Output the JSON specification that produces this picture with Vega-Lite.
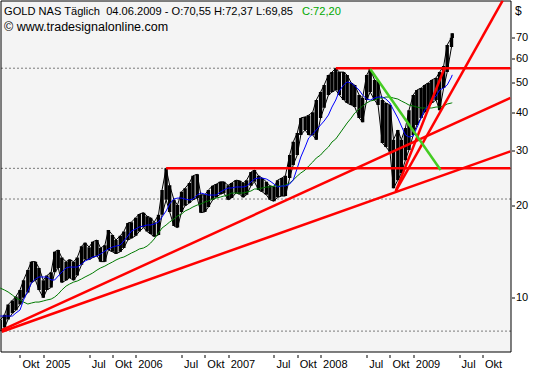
{
 "$schema": "https://vega.github.io/schema/vega-lite/v6.json",
 "width": 510, "height": 351,
 "autosize": "none",
 "padding": {"left": 0.5, "top": 0.5, "right": 22.5, "bottom": 28.5},
 "background": "white",
 "config": {"view": {"stroke": "black", "strokeWidth": 1, "fill": "#f4f4f4"}, "font": "Liberation Sans", "axis": {"labelOverlap": false}},
 "title": {
  "text": "\u00a0\u00a0\u00a0\u00a0\u00a0GOLD NAS Täglich\u00a0 04.06.2009 - O:70,55 H:72,37 L:69,85",
  "subtitle": "© www.tradesignalonline.com",
  "anchor": "start", "frame": "group", "orient": "top", "offset": -32.5, "dx": 3.5,
  "font": "Liberation Sans", "fontSize": 11.1, "fontWeight": "normal", "color": "black",
  "subtitleFont": "Liberation Sans", "subtitleFontSize": 12.5, "subtitleColor": "black", "subtitlePadding": 3.4
 },
 "datasets": {
  "lv": [{"level": 55.7}, {"level": 26.33}, {"level": 20.93}, {"level": 7.79}],
  "px": [
   {"d":"2004-07-15","h":8.46,"l":7.8,"b":8.72,"g":10.75},
   {"d":"2004-08-01","h":8.8,"l":8.0,"b":8.72,"g":10.59},
   {"d":"2004-08-15","h":9.5,"l":8.5,"b":8.72,"g":10.44},
   {"d":"2004-09-01","h":9.8,"l":8.9,"b":8.72,"g":10.2},
   {"d":"2004-09-15","h":10.1,"l":9.1,"b":8.92,"g":9.98},
   {"d":"2004-10-01","h":10.6,"l":9.5,"b":9.12,"g":9.83},
   {"d":"2004-10-15","h":11.4,"l":10.0,"b":9.83,"g":9.68},
   {"d":"2004-11-01","h":12.3,"l":10.4,"b":10.51,"g":9.54},
   {"d":"2004-11-15","h":13.1,"l":11.2,"b":11.16,"g":9.61},
   {"d":"2004-12-01","h":13.1,"l":11.4,"b":11.51,"g":9.68},
   {"d":"2004-12-15","h":12.5,"l":10.6,"b":11.68,"g":9.68},
   {"d":"2005-01-01","h":11.4,"l":10.0,"b":11.68,"g":9.76},
   {"d":"2005-01-15","h":11.8,"l":10.6,"b":11.68,"g":9.83},
   {"d":"2005-02-01","h":12.1,"l":10.8,"b":11.42,"g":9.9},
   {"d":"2005-02-15","h":14.1,"l":12.1,"b":11.42,"g":10.05},
   {"d":"2005-03-01","h":14.3,"l":12.5,"b":11.77,"g":10.28},
   {"d":"2005-03-15","h":13.5,"l":11.2,"b":12.12,"g":10.59},
   {"d":"2005-04-01","h":13.1,"l":11.4,"b":12.49,"g":10.91},
   {"d":"2005-04-15","h":13.3,"l":11.6,"b":12.58,"g":11.08},
   {"d":"2005-05-01","h":13.1,"l":11.4,"b":12.58,"g":11.24},
   {"d":"2005-05-15","h":13.5,"l":11.8,"b":12.58,"g":11.33},
   {"d":"2005-06-01","h":14.7,"l":12.8,"b":12.86,"g":11.51},
   {"d":"2005-06-15","h":15.1,"l":13.3,"b":13.16,"g":11.68},
   {"d":"2005-07-01","h":14.6,"l":13.3,"b":13.36,"g":11.86},
   {"d":"2005-07-15","h":15.2,"l":13.5,"b":13.56,"g":12.03},
   {"d":"2005-08-01","h":15.4,"l":13.7,"b":13.66,"g":12.3},
   {"d":"2005-08-15","h":14.5,"l":13.1,"b":13.87,"g":12.49},
   {"d":"2005-09-01","h":14.8,"l":13.1,"b":14.18,"g":12.67},
   {"d":"2005-09-15","h":16.6,"l":14.3,"b":14.4,"g":12.86},
   {"d":"2005-10-01","h":16.0,"l":14.1,"b":14.61,"g":13.06},
   {"d":"2005-10-15","h":15.4,"l":13.9,"b":14.72,"g":13.26},
   {"d":"2005-11-01","h":15.9,"l":14.1,"b":14.83,"g":13.46},
   {"d":"2005-11-15","h":16.4,"l":14.5,"b":15.29,"g":13.56},
   {"d":"2005-12-01","h":17.5,"l":15.4,"b":15.87,"g":13.77},
   {"d":"2005-12-15","h":17.6,"l":15.6,"b":16.47,"g":13.97},
   {"d":"2006-01-01","h":18.2,"l":15.9,"b":16.72,"g":14.18},
   {"d":"2006-01-15","h":18.7,"l":16.4,"b":16.98,"g":14.4},
   {"d":"2006-02-01","h":18.9,"l":16.9,"b":17.1,"g":14.51},
   {"d":"2006-02-15","h":18.4,"l":16.4,"b":17.23,"g":14.72},
   {"d":"2006-03-01","h":18.2,"l":16.1,"b":17.23,"g":15.06},
   {"d":"2006-03-15","h":17.6,"l":15.8,"b":17.36,"g":15.52},
   {"d":"2006-04-01","h":18.6,"l":16.0,"b":17.62,"g":16.23},
   {"d":"2006-04-15","h":22.4,"l":18.6,"b":18.3,"g":16.85},
   {"d":"2006-05-01","h":26.33,"l":20.8,"b":19.14,"g":17.23},
   {"d":"2006-05-15","h":23.2,"l":19.0,"b":20.17,"g":17.62},
   {"d":"2006-06-01","h":20.8,"l":17.1,"b":20.93,"g":18.02},
   {"d":"2006-06-15","h":20.0,"l":16.9,"b":21.08,"g":18.43},
   {"d":"2006-07-01","h":22.1,"l":19.0,"b":21.08,"g":18.71},
   {"d":"2006-07-15","h":22.7,"l":19.9,"b":20.93,"g":19.14},
   {"d":"2006-08-01","h":23.6,"l":20.3,"b":20.77,"g":19.42},
   {"d":"2006-08-15","h":24.9,"l":20.8,"b":20.93,"g":19.72},
   {"d":"2006-09-01","h":25.2,"l":21.1,"b":21.56,"g":20.01},
   {"d":"2006-09-15","h":21.6,"l":18.9,"b":21.89,"g":20.17},
   {"d":"2006-10-01","h":21.6,"l":19.0,"b":21.72,"g":20.47},
   {"d":"2006-10-15","h":22.4,"l":19.7,"b":21.56,"g":20.62},
   {"d":"2006-11-01","h":23.1,"l":20.8,"b":21.56,"g":20.93},
   {"d":"2006-11-15","h":23.4,"l":21.2,"b":21.56,"g":21.08},
   {"d":"2006-12-01","h":23.8,"l":21.7,"b":22.05,"g":21.24},
   {"d":"2006-12-15","h":23.8,"l":21.9,"b":22.39,"g":21.4},
   {"d":"2007-01-01","h":23.2,"l":20.8,"b":22.73,"g":21.56},
   {"d":"2007-01-15","h":23.6,"l":21.1,"b":22.73,"g":21.89},
   {"d":"2007-02-01","h":24.1,"l":21.9,"b":22.9,"g":21.89},
   {"d":"2007-02-15","h":24.0,"l":21.7,"b":22.9,"g":21.89},
   {"d":"2007-03-01","h":23.6,"l":21.2,"b":22.9,"g":21.89},
   {"d":"2007-03-15","h":24.1,"l":21.6,"b":23.07,"g":22.05},
   {"d":"2007-04-01","h":25.6,"l":23.1,"b":23.77,"g":22.22},
   {"d":"2007-04-15","h":26.0,"l":23.8,"b":24.31,"g":22.56},
   {"d":"2007-05-01","h":24.9,"l":22.4,"b":24.49,"g":22.56},
   {"d":"2007-05-15","h":24.5,"l":22.1,"b":24.49,"g":22.73},
   {"d":"2007-06-01","h":23.8,"l":21.6,"b":24.31,"g":22.9},
   {"d":"2007-06-15","h":23.1,"l":20.8,"b":23.95,"g":22.9},
   {"d":"2007-07-01","h":22.9,"l":20.6,"b":23.42,"g":23.07},
   {"d":"2007-07-15","h":24.1,"l":21.2,"b":22.9,"g":23.07},
   {"d":"2007-08-01","h":24.5,"l":21.4,"b":23.07,"g":23.07},
   {"d":"2007-08-15","h":24.9,"l":21.4,"b":23.07,"g":23.24},
   {"d":"2007-09-01","h":29.1,"l":24.5,"b":23.42,"g":23.59},
   {"d":"2007-09-15","h":32.1,"l":27.0,"b":24.13,"g":24.13},
   {"d":"2007-10-01","h":34.3,"l":29.1,"b":26.39,"g":24.86},
   {"d":"2007-10-15","h":38.4,"l":33.8,"b":28.66,"g":25.43},
   {"d":"2007-11-01","h":38.7,"l":35.1,"b":30.89,"g":26.0},
   {"d":"2007-11-15","h":39.2,"l":33.8,"b":33.04,"g":26.79},
   {"d":"2007-12-01","h":40.1,"l":33.8,"b":34.04,"g":27.6},
   {"d":"2007-12-15","h":43.9,"l":32.6,"b":35.08,"g":28.44},
   {"d":"2008-01-01","h":46.6,"l":38.4,"b":36.42,"g":29.09},
   {"d":"2008-01-15","h":49.1,"l":41.4,"b":37.52,"g":29.98},
   {"d":"2008-02-01","h":52.9,"l":45.6,"b":39.24,"g":30.89},
   {"d":"2008-02-15","h":54.1,"l":46.6,"b":41.66,"g":32.06},
   {"d":"2008-03-01","h":55.7,"l":47.3,"b":43.9,"g":32.8},
   {"d":"2008-03-15","h":54.1,"l":45.6,"b":46.96,"g":34.04},
   {"d":"2008-04-01","h":54.1,"l":43.9,"b":49.12,"g":35.61},
   {"d":"2008-04-15","h":52.9,"l":42.9,"b":50.24,"g":36.97},
   {"d":"2008-05-01","h":49.9,"l":42.3,"b":49.86,"g":38.37},
   {"d":"2008-05-15","h":49.1,"l":41.7,"b":48.76,"g":39.83},
   {"d":"2008-06-01","h":45.6,"l":38.4,"b":47.32,"g":41.05},
   {"d":"2008-06-15","h":44.6,"l":37.2,"b":45.57,"g":41.98},
   {"d":"2008-07-01","h":52.9,"l":43.9,"b":44.23,"g":42.93},
   {"d":"2008-07-15","h":55.4,"l":46.6,"b":43.9,"g":43.58},
   {"d":"2008-08-01","h":51.0,"l":43.9,"b":44.56,"g":43.9},
   {"d":"2008-08-15","h":50.2,"l":42.3,"b":44.9,"g":44.56},
   {"d":"2008-09-01","h":43.9,"l":31.8,"b":44.9,"g":44.56},
   {"d":"2008-09-15","h":42.9,"l":30.9,"b":44.23,"g":44.9},
   {"d":"2008-10-01","h":42.3,"l":29.8,"b":42.93,"g":44.9},
   {"d":"2008-10-15","h":32.6,"l":22.7,"b":40.74,"g":44.56},
   {"d":"2008-11-01","h":35.1,"l":24.1,"b":38.37,"g":44.23},
   {"d":"2008-11-15","h":32.6,"l":25.4,"b":36.15,"g":43.58},
   {"d":"2008-12-01","h":35.6,"l":28.0,"b":33.79,"g":42.93},
   {"d":"2008-12-15","h":40.7,"l":30.2,"b":33.29,"g":42.29},
   {"d":"2009-01-01","h":45.6,"l":33.8,"b":33.54,"g":41.98},
   {"d":"2009-01-15","h":47.3,"l":36.4,"b":35.61,"g":41.66},
   {"d":"2009-02-01","h":48.0,"l":38.4,"b":38.37,"g":41.36},
   {"d":"2009-02-15","h":49.1,"l":40.1,"b":40.74,"g":41.36},
   {"d":"2009-03-01","h":49.9,"l":41.4,"b":41.98,"g":41.36},
   {"d":"2009-03-15","h":51.0,"l":42.9,"b":43.58,"g":41.36},
   {"d":"2009-04-01","h":51.8,"l":43.9,"b":45.23,"g":41.66},
   {"d":"2009-04-15","h":54.1,"l":40.7,"b":47.32,"g":41.66},
   {"d":"2009-05-01","h":56.6,"l":48.0,"b":48.03,"g":41.98},
   {"d":"2009-05-15","h":66.3,"l":54.1,"b":49.12,"g":42.61},
   {"d":"2009-06-01","h":70.0,"l":65.3,"b":52.15,"g":42.93},
   {"d":"2009-06-04","h":72.37,"l":69.85,"b":53.0,"g":43.0}
  ],
  "tl": [
   {"n":"A","d":"2004-07-21","v":7.85},{"n":"A","d":"2010-01-20","v":44.6},
   {"n":"B","d":"2004-07-21","v":7.75},{"n":"B","d":"2010-01-20","v":29.9},
   {"n":"H1","d":"2006-05-01","v":26.33},{"n":"H1","d":"2010-01-20","v":26.33},
   {"n":"H2","d":"2008-03-01","v":55.7},{"n":"H2","d":"2010-01-20","v":55.7},
   {"n":"S1","d":"2008-10-24","v":22.2},{"n":"S1","d":"2009-05-04","v":55.7},
   {"n":"S2","d":"2008-10-24","v":22.2},{"n":"S2","d":"2009-12-20","v":92.4},
   {"n":"G","d":"2008-07-15","v":55.4},{"n":"G","d":"2009-04-19","v":26.0}
  ]
 },
 "layer": [
  {
   "data": {"name": "px"},
   "mark": {"type": "rule", "color": "black", "strokeWidth": 3.4, "clip": true},
   "encoding": {
    "x": {"field": "d", "type": "temporal",
     "scale": {"domain": [{"year": 2004, "month": 7, "date": 16, "utc": true}, {"year": 2010, "month": 1, "date": 20, "utc": true}]},
     "axis": {
      "values": [
       {"year": 2004, "month": 10, "date": 1, "utc": true},
       {"year": 2005, "month": 1, "date": 1, "utc": true},
       {"year": 2005, "month": 7, "date": 1, "utc": true},
       {"year": 2005, "month": 10, "date": 1, "utc": true},
       {"year": 2006, "month": 1, "date": 1, "utc": true},
       {"year": 2006, "month": 7, "date": 1, "utc": true},
       {"year": 2006, "month": 10, "date": 1, "utc": true},
       {"year": 2007, "month": 1, "date": 1, "utc": true},
       {"year": 2007, "month": 7, "date": 1, "utc": true},
       {"year": 2007, "month": 10, "date": 1, "utc": true},
       {"year": 2008, "month": 1, "date": 1, "utc": true},
       {"year": 2008, "month": 7, "date": 1, "utc": true},
       {"year": 2008, "month": 10, "date": 1, "utc": true},
       {"year": 2009, "month": 1, "date": 1, "utc": true},
       {"year": 2009, "month": 7, "date": 1, "utc": true},
       {"year": 2009, "month": 10, "date": 1, "utc": true}
      ],
      "tickCount": 40,
      "labelExpr": "utcmonth(datum.value) == 0 ? '' + utcyear(datum.value) : (utcmonth(datum.value) == 6 ? 'Jul' : 'Okt')",
      "labelAlign": "left", "labelOffset": 2, "labelPadding": 1, "labelBaseline": "top",
      "labelFont": "Liberation Sans", "labelFontSize": 11, "labelColor": "black",
      "labelFlush": false, "labelOverlap": false, "labelBound": false,
      "tickSize": 3, "tickColor": "black", "domain": false, "grid": false, "offset": 3,
      "title": "C:72,20", "titleColor": "#00a800", "titleFont": "Liberation Sans", "titleFontSize": 11.1,
      "titleFontWeight": "normal", "titleX": 301, "titleY": -340, "titleAlign": "left", "titleBaseline": "alphabetic"
     }
    },
    "y": {"field": "l", "type": "quantitative",
     "scale": {"type": "log", "domain": [6.687, 92.45], "nice": false},
     "axis": {
      "orient": "right", "values": [10, 20, 30, 40, 50, 60, 70], "format": "d", "tickCount": 20,
      "tickSize": 3, "tickColor": "black", "offset": 1, "labelPadding": 1, "domain": false, "grid": false,
      "labelFont": "Liberation Sans", "labelFontSize": 11, "labelColor": "black", "labelFlush": false, "labelOverlap": false,
      "title": "$", "titleAngle": 0, "titleX": 3, "titleY": 14, "titleAlign": "left", "titleBaseline": "alphabetic",
      "titleFont": "Liberation Sans", "titleFontSize": 12, "titleFontWeight": "normal", "titleColor": "black"
     }
    },
    "y2": {"field": "h"}
   }
  },
  {
   "data": {"name": "px"},
   "mark": {"type": "line", "color": "black", "strokeWidth": 1},
   "encoding": {
    "x": {"field": "d", "type": "temporal"},
    "y": {"field": "h", "type": "quantitative"}
   }
  },
  {
   "data": {"name": "px"},
   "mark": {"type": "line", "color": "black", "strokeWidth": 1},
   "encoding": {
    "x": {"field": "d", "type": "temporal"},
    "y": {"field": "l", "type": "quantitative"}
   }
  },
  {
   "data": {"name": "lv"},
   "mark": {"type": "rule", "color": "black", "strokeWidth": 1, "strokeDash": [1, 3]},
   "encoding": {"y": {"field": "level", "type": "quantitative"}}
  },
  {
   "data": {"name": "px"},
   "mark": {"type": "line", "color": "#007a00", "strokeWidth": 1},
   "encoding": {
    "x": {"field": "d", "type": "temporal"},
    "y": {"field": "g", "type": "quantitative"}
   }
  },
  {
   "data": {"name": "px"},
   "mark": {"type": "line", "color": "#0000ff", "strokeWidth": 1},
   "encoding": {
    "x": {"field": "d", "type": "temporal"},
    "y": {"field": "b", "type": "quantitative"}
   }
  },
  {
   "data": {"name": "tl"},
   "mark": {"type": "line", "strokeWidth": 2.5, "clip": true},
   "encoding": {
    "x": {"field": "d", "type": "temporal"},
    "y": {"field": "v", "type": "quantitative"},
    "detail": {"field": "n"},
    "color": {"field": "n", "type": "nominal", "legend": null,
     "scale": {"domain": ["A", "B", "H1", "H2", "S1", "S2", "G"], "range": ["#ff0000", "#ff0000", "#ff0000", "#ff0000", "#ff0000", "#ff0000", "#44cc22"]}}
   }
  }
 ]
}
